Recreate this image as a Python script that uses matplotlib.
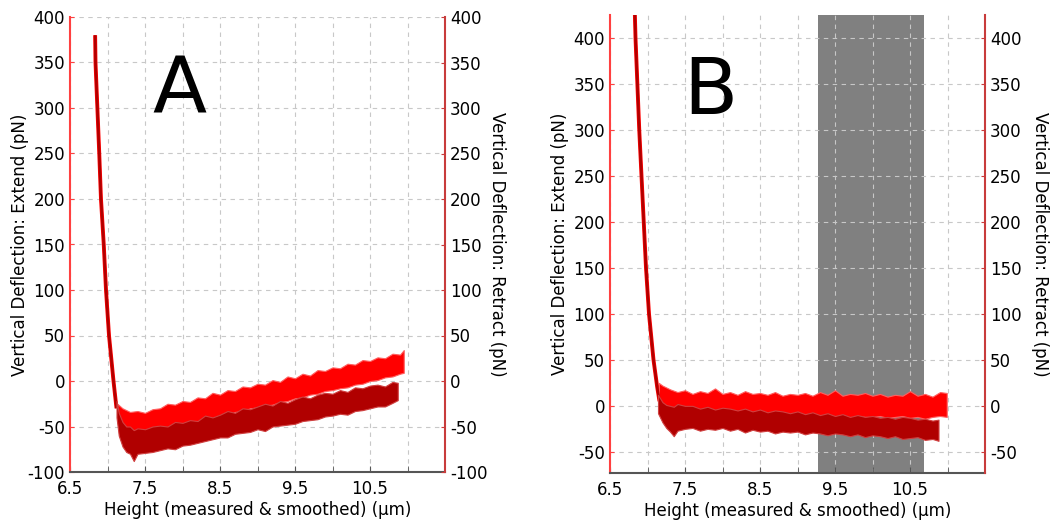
import numpy as np
import matplotlib
matplotlib.use('Agg')
from matplotlib import pyplot as plt
from matplotlib.ticker import MultipleLocator

plt.rcParams['axes.unicode_minus'] = False

########################################################################
# Data (force curves, pN vs height in um)
########################################################################

# panel A : steep contact region (both curves share it)
steep_a_x = [6.835, 6.84, 6.865, 6.89, 6.913, 6.95, 6.98, 7.02, 7.08, 7.12]
steep_a_y = [380, 350, 300, 250, 200, 150, 100, 50, 0, -30]

# panel A : extend (dark red) noise band
ext_a_x = [7.12, 7.15, 7.2, 7.25, 7.3, 7.35, 7.4, 7.5, 7.6, 7.7, 7.8, 7.9, 8.0, 8.1,
           8.2, 8.3, 8.4, 8.5, 8.6, 8.7, 8.8, 8.9, 9.0, 9.1, 9.2, 9.3, 9.4, 9.5, 9.6,
           9.7, 9.8, 9.9, 10.0, 10.1, 10.2, 10.3, 10.4, 10.5, 10.6, 10.7, 10.8, 10.87]
ext_a_hi = [-22, -35, -45, -50, -50, -54, -52, -53, -50, -49, -50, -45, -46, -43,
            -44, -38, -40, -37, -33, -35, -30, -31, -28, -25, -27, -22, -24, -20, -17,
            -19, -15, -13, -14, -10, -12, -7, -8, -5, -4, -6, -1, -2]
ext_a_lo = [-40, -60, -72, -78, -80, -88, -80, -79, -78, -76, -74, -75, -71, -70,
            -68, -66, -64, -62, -62, -58, -57, -56, -53, -55, -50, -49, -48, -47, -44,
            -43, -42, -39, -38, -36, -37, -33, -32, -30, -28, -28, -24, -21]

# panel A : retract (bright red) noise band
ret_a_x = [7.13, 7.2, 7.3, 7.4, 7.5, 7.6, 7.7, 7.8, 7.9, 8.0, 8.1, 8.2, 8.3, 8.4, 8.5,
           8.6, 8.7, 8.8, 8.9, 9.0, 9.1, 9.2, 9.3, 9.4, 9.5, 9.6, 9.7, 9.8, 9.9, 10.0,
           10.1, 10.2, 10.3, 10.4, 10.5, 10.6, 10.7, 10.8, 10.9, 10.95]
ret_a_hi = [-25, -30, -34, -33, -35, -31, -30, -25, -26, -22, -23, -18, -19, -13, -15,
            -10, -11, -6, -7, -3, -4, 1, -1, 5, 3, 8, 6, 12, 11, 15,
            14, 19, 18, 23, 22, 26, 25, 30, 29, 34]
ret_a_lo = [-45, -57, -58, -59, -57, -56, -53, -52, -49, -49, -46, -45, -42, -41, -38,
            -37, -34, -33, -30, -29, -27, -26, -23, -22, -19, -18, -15, -14, -11, -10,
            -8, -7, -4, -3, 0, 1, 4, 5, 8, 9]

# panel B : steep contact region
steep_b_x = [6.83, 6.84, 6.89, 6.95, 6.98, 7.02, 7.08, 7.13, 7.16]
steep_b_y = [430, 400, 300, 200, 150, 100, 50, 20, 5]

# panel B : extend (dark red) noise band
ext_b_x = [7.14, 7.2, 7.25, 7.3, 7.35, 7.4, 7.5, 7.6, 7.7, 7.8, 7.9, 8.0, 8.1, 8.2,
           8.3, 8.4, 8.5, 8.6, 8.7, 8.8, 8.9, 9.0, 9.1, 9.2, 9.3, 9.4, 9.5, 9.6, 9.7,
           9.8, 9.9, 10.0, 10.1, 10.2, 10.3, 10.4, 10.5, 10.6, 10.7, 10.8, 10.88]
ext_b_hi = [12, 4, 1, 0, -1, 2, 0, 0, -3, -1, -4, -2, -3, -5, -3, -6, -4, -7, -5, -6,
            -8, -6, -9, -7, -10, -8, -11, -9, -12, -10, -12, -11, -13, -12, -14, -12,
            -13, -15, -14, -16, -15]
ext_b_lo = [-8, -18, -24, -28, -33, -27, -25, -24, -27, -25, -26, -24, -27, -25, -29,
            -26, -28, -27, -30, -28, -29, -28, -31, -29, -30, -32, -30, -31, -33, -31,
            -34, -32, -33, -35, -33, -36, -35, -34, -37, -36, -38]

# panel B : retract (bright red) noise band
ret_b_x = [7.15, 7.2, 7.3, 7.4, 7.5, 7.6, 7.7, 7.8, 7.9, 8.0, 8.1, 8.2, 8.3, 8.4, 8.5,
           8.6, 8.7, 8.8, 8.9, 9.0, 9.1, 9.2, 9.3, 9.4, 9.5, 9.6, 9.7, 9.8, 9.9, 10.0,
           10.1, 10.2, 10.3, 10.4, 10.5, 10.6, 10.7, 10.8, 10.9, 10.99]
ret_b_hi = [25, 22, 18, 15, 17, 13, 16, 14, 19, 13, 15, 12, 16, 13, 14, 12, 15, 11,
            13, 12, 14, 11, 15, 12, 17, 11, 13, 12, 14, 11, 13, 10, 12, 11, 16, 11,
            13, 10, 15, 14]
ret_b_lo = [0, -8, -10, -9, -7, -10, -8, -11, -9, -10, -8, -11, -9, -12, -10, -11, -9,
            -12, -10, -11, -12, -10, -13, -11, -12, -10, -13, -11, -12, -12, -11, -13,
            -12, -11, -13, -12, -14, -12, -11, -12]

# shaded region in B
shade_b = [9.27, 10.69]

x_major = [6.5, 7.5, 8.5, 9.5, 10.5]
y_ticks_a = [-100, -50, 0, 50, 100, 150, 200, 250, 300, 350, 400]
y_ticks_b = [-50, 0, 50, 100, 150, 200, 250, 300, 350, 400]

DARK = '#b00000'
BRIGHT = '#ff0000'

########################################################################
# Drawing
########################################################################

def draw_panel(ax, steep_x, steep_y, ext, ret, ylim, yticks, letter, lpos, rlab_x):
    ax.plot(steep_x, steep_y, color=BRIGHT, lw=2.8, zorder=3, solid_capstyle='butt')
    ax.plot(steep_x, steep_y, color=DARK, lw=1.8, zorder=4, solid_capstyle='butt')
    ax.fill_between(ret[0], ret[2], ret[1], facecolor=BRIGHT, edgecolor='#ff6060',
                    lw=0.8, zorder=3)
    ax.fill_between(ext[0], ext[2], ext[1], facecolor=DARK, edgecolor='#d04040',
                    lw=0.8, zorder=4)

    ax.set_xlim(6.5, 11.5)
    ax.set_ylim(*ylim)
    ax.set_xticks(x_major)
    ax.set_xticklabels([str(v) for v in x_major])
    ax.xaxis.set_minor_locator(MultipleLocator(0.5))
    ax.set_yticks(yticks)
    ax.grid(True, which='both', color='#c8c8c8', ls=(0, (4, 4)), lw=0.8)
    ax.tick_params(axis='x', which='both', direction='in', length=4, color='#555555',
                   labelsize=12, pad=6)
    ax.tick_params(axis='y', direction='in', length=3, color='#ff4040', labelsize=12)
    ax.spines['top'].set_visible(False)
    ax.spines['right'].set_visible(False)
    ax.spines['left'].set_color('#ff4040')
    ax.spines['left'].set_linewidth(1.5)
    ax.spines['bottom'].set_color('#555555')
    ax.spines['bottom'].set_linewidth(1.5)
    ax.set_xlabel('Height (measured & smoothed) (\u00b5m)', fontsize=12, labelpad=2)
    ax.set_ylabel('Vertical Deflection: Extend (pN)', fontsize=12, va='center')
    ax.yaxis.set_label_coords(-0.133, 0.5)
    ax.text(lpos[0], lpos[1], letter, transform=ax.transAxes, fontsize=57,
            ha='center', va='center', zorder=6)

    ax2 = ax.twinx()
    ax2.set_ylim(*ylim)
    ax2.set_yticks(yticks)
    for s in ['top', 'left', 'bottom']:
        ax2.spines[s].set_visible(False)
    ax2.spines['right'].set_color('#c83c3c')
    ax2.spines['right'].set_linewidth(1.5)
    ax2.tick_params(axis='y', direction='in', length=3, color='#c83c3c', labelsize=12)
    ax2.set_ylabel('Vertical Deflection: Retract (pN)', fontsize=12, rotation=270,
                   va='center')
    ax2.yaxis.set_label_coords(rlab_x, 0.5)


fig = plt.figure(figsize=(10.52, 5.22), dpi=100)
ax_a = fig.add_axes([70 / 1052, 50 / 522, 375 / 1052, 455 / 522])
ax_b = fig.add_axes([610 / 1052, 49 / 522, 375 / 1052, 458 / 522])

draw_panel(ax_a, steep_a_x, steep_a_y,
           (ext_a_x, ext_a_hi, ext_a_lo), (ret_a_x, ret_a_hi, ret_a_lo),
           (-100, 400), y_ticks_a, 'A', (0.293, 0.837), 1.139)

ax_b.axvspan(shade_b[0], shade_b[1], color='#808080', zorder=1, lw=0)
draw_panel(ax_b, steep_b_x, steep_b_y,
           (ext_b_x, ext_b_hi, ext_b_lo), (ret_b_x, ret_b_hi, ret_b_lo),
           (-73, 425), y_ticks_b, 'B', (0.267, 0.832), 1.147)

plt.savefig('out.png', dpi=100)
